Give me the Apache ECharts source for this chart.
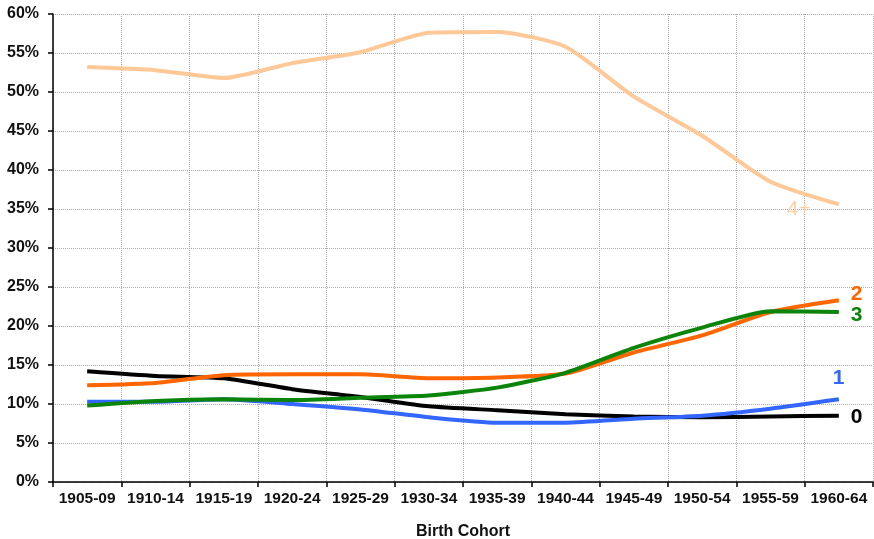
<!DOCTYPE html>
<html lang="en">
<head>
    <title>birth cohort</title>
    <meta charset="utf-8">
</head>
<body style="margin:0">
<script type="text/javascript" src="https://cdn.jsdelivr.net/npm/echarts@6/dist/echarts.min.js"></script>
<div id="main" style="width: 874px;height: 539px"></div>
<script type="text/javascript">
    var cohorts = ['1905-09', '1910-14', '1915-19', '1920-24', '1925-29', '1930-34',
        '1935-39', '1940-44', '1945-49', '1950-54', '1955-59', '1960-64'];
    // share of women by number of children, in %
    var kids0 = [14.2, 13.6, 13.3, 11.9, 10.9, 9.7, 9.2, 8.7, 8.4, 8.3, 8.4, 8.5];
    var kids1 = [10.3, 10.3, 10.6, 10.0, 9.3, 8.3, 7.6, 7.6, 8.1, 8.5, 9.4, 10.6];
    var kids2 = [12.4, 12.7, 13.7, 13.8, 13.8, 13.3, 13.4, 13.9, 16.6, 18.8, 21.8, 23.3];
    var kids3 = [9.8, 10.4, 10.6, 10.5, 10.8, 11.1, 12.1, 14.0, 17.2, 19.8, 21.9, 21.8];
    var kids4 = [53.2, 52.8, 51.8, 53.7, 55.1, 57.6, 57.7, 55.8, 49.4, 44.4, 38.5, 35.6];

    var font = 'Liberation Sans, Arial, sans-serif';
    var myChart = echarts.init(document.getElementById('main'));

    function line(name, data, color, lblColor, offset, weight) {
        return {
            name: name,
            type: 'line',
            data: data,
            smooth: 0.2,
            symbol: 'none',
            lineStyle: { color: color, width: 4 },
            itemStyle: { color: color },
            endLabel: {
                show: true,
                formatter: name,
                color: lblColor,
                fontFamily: font,
                fontWeight: weight || 'bold',
                fontSize: 21,
                offset: offset
            }
        };
    }

    var option = {
        animation: false,
        grid: { left: 53, right: 1, top: 14, bottom: 57, containLabel: false, outerBoundsMode: 'none' },
        xAxis: {
            type: 'category',
            data: cohorts,
            name: 'Birth Cohort',
            nameLocation: 'middle',
            nameGap: 42,
            nameTextStyle: { fontFamily: font, fontWeight: 'bold', fontSize: 16, color: '#111' },
            axisLine: { lineStyle: { color: '#000', width: 1.5 } },
            axisTick: { show: true, length: 5, lineStyle: { color: '#000', width: 1.5 } },
            axisLabel: { interval: 0, hideOverlap: false, fontFamily: font, fontWeight: 'bold', fontSize: 15.5, color: '#111', margin: 9 },
            splitLine: { show: true, interval: 0, lineStyle: { color: '#aaa', type: 'dotted' } }
        },
        yAxis: {
            type: 'value',
            min: 0,
            max: 60,
            interval: 5,
            axisLine: { show: true, lineStyle: { color: '#000', width: 1.5 } },
            axisTick: { show: true, length: 5, lineStyle: { color: '#000', width: 1.5 } },
            axisLabel: { formatter: '{value}%', fontFamily: font, fontWeight: 'bold', fontSize: 16, color: '#111', margin: 14 },
            splitLine: { show: true, lineStyle: { color: '#aaa', type: 'dotted' } }
        },
        series: [
            line('0', kids0, '#000000', '#000000', [4, 2]),
            line('1', kids1, '#3366ff', '#3366ff', [-14, -21]),
            line('2', kids2, '#ff6600', '#ff6600', [4, -6]),
            line('3', kids3, '#0a850a', '#0a850a', [4, 3]),
            line('4+', kids4, '#ffc896', '#ffd2a8', [-60, 5], 'normal')
        ]
    };
    myChart.setOption(option);
</script>
</body>
</html>
